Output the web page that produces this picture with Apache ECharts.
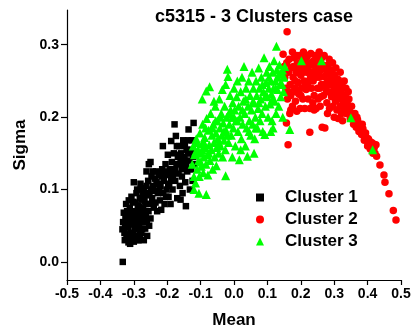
<!DOCTYPE html>
<html>
<head>
<meta charset="utf-8">
<title>c5315 - 3 Clusters case</title>
<script src="https://cdn.jsdelivr.net/npm/echarts@6/dist/echarts.min.js"></script>
<style>
  html, body { margin: 0; padding: 0; background: #fff; }
  #chart { width: 412px; height: 329px; }
</style>
</head>
<body>
<div id="chart"></div>
<script>
// 数据: [mean, sigma]
const cluster1 = [
  [-0.333,0.0],
  [-0.332,0.055],[-0.328,0.040],[-0.325,0.062],[-0.322,0.035],[-0.320,0.070],[-0.318,0.048],[-0.316,0.027],[-0.314,0.058],
  [-0.312,0.075],[-0.310,0.040],[-0.308,0.032],[-0.306,0.064],[-0.304,0.052],[-0.302,0.083],[-0.300,0.028],[-0.298,0.045],
  [-0.296,0.070],[-0.294,0.036],[-0.292,0.095],[-0.290,0.058],[-0.288,0.078],[-0.286,0.030],[-0.284,0.048],[-0.282,0.088],
  [-0.280,0.065],[-0.278,0.040],[-0.276,0.100],[-0.274,0.055],[-0.272,0.074],[-0.270,0.030],[-0.268,0.084],[-0.266,0.046],
  [-0.264,0.062],[-0.262,0.105],[-0.260,0.036],[-0.258,0.092],[-0.256,0.070],[-0.254,0.050],[-0.252,0.080],[-0.250,0.060],
  [-0.326,0.050],[-0.318,0.066],[-0.310,0.052],[-0.303,0.040],[-0.297,0.060],[-0.291,0.046],[-0.285,0.068],[-0.279,0.055],
  [-0.273,0.092],[-0.267,0.070],[-0.315,0.085],[-0.300,0.110],[-0.290,0.100],[-0.280,0.108],[-0.270,0.095],
  [-0.334,0.045],[-0.330,0.068],[-0.327,0.030],[-0.323,0.080],[-0.321,0.052],[-0.317,0.038],[-0.313,0.068],[-0.311,0.025],
  [-0.307,0.090],[-0.305,0.058],[-0.301,0.070],[-0.299,0.036],[-0.295,0.082],[-0.293,0.050],[-0.289,0.030],[-0.287,0.062],
  [-0.283,0.076],[-0.281,0.038],[-0.277,0.086],[-0.275,0.045],[-0.271,0.060],[-0.269,0.102],[-0.265,0.080],[-0.261,0.055],
  [-0.262,0.125],[-0.255,0.135],[-0.250,0.138],[-0.248,0.100],[-0.245,0.088],[-0.242,0.105],[-0.240,0.075],[-0.238,0.098],
  [-0.235,0.082],[-0.232,0.110],[-0.230,0.070],[-0.228,0.095],[-0.225,0.120],[-0.222,0.085],[-0.220,0.105],[-0.218,0.072],
  [-0.215,0.128],[-0.212,0.095],[-0.210,0.112],[-0.208,0.080],[-0.205,0.135],[-0.202,0.100],[-0.200,0.120],[-0.198,0.148],
  [-0.196,0.090],[-0.194,0.108],[-0.192,0.128],[-0.190,0.080],[-0.188,0.115],[-0.186,0.138],[-0.184,0.100],
  [-0.257,0.112],[-0.253,0.095],[-0.247,0.118],[-0.243,0.125],[-0.237,0.115],[-0.233,0.125],[-0.227,0.108],[-0.223,0.100],
  [-0.217,0.118],[-0.207,0.125],[-0.203,0.090],[-0.197,0.105],
  [-0.182,0.125],[-0.180,0.150],[-0.178,0.190],[-0.176,0.112],[-0.174,0.174],[-0.172,0.135],[-0.170,0.088],[-0.168,0.145],
  [-0.166,0.122],[-0.164,0.160],[-0.162,0.105],[-0.160,0.138],[-0.158,0.150],[-0.156,0.118],[-0.154,0.095],[-0.152,0.168],
  [-0.150,0.130],[-0.148,0.145],[-0.146,0.110],[-0.144,0.077],[-0.142,0.155],[-0.140,0.125],[-0.138,0.168],[-0.136,0.183],
  [-0.134,0.140],[-0.132,0.100],[-0.130,0.150],[-0.128,0.128],[-0.126,0.168],[-0.124,0.112],[-0.122,0.145],[-0.121,0.192],
  [-0.120,0.135],[-0.188,0.167],[-0.213,0.160],[-0.160,0.086],
  [-0.183,0.118],[-0.177,0.128],[-0.171,0.160],[-0.167,0.135],[-0.163,0.148],[-0.157,0.128],[-0.153,0.140],[-0.147,0.160],
  [-0.143,0.135],[-0.137,0.150],[-0.133,0.128],[-0.127,0.155]
]
const cluster2 = [
  [0.147,0.287],[0.150,0.270],[0.152,0.255],[0.155,0.240],[0.157,0.192],[0.159,0.318],[0.160,0.225],[0.162,0.162],
  [0.163,0.262],[0.165,0.280],[0.167,0.205],[0.168,0.245],[0.170,0.230],[0.172,0.268],[0.175,0.215],[0.177,0.255],
  [0.180,0.282],[0.182,0.240],[0.184,0.222],[0.186,0.262],[0.188,0.208],[0.190,0.275],[0.192,0.248],[0.194,0.232],
  [0.196,0.285],[0.198,0.212],[0.200,0.258],[0.202,0.240],[0.204,0.270],[0.206,0.225],[0.208,0.290],[0.210,0.250],
  [0.212,0.212],[0.214,0.275],[0.216,0.238],[0.218,0.262],[0.220,0.285],[0.222,0.225],[0.224,0.250],[0.226,0.272],
  [0.227,0.179],[0.228,0.212],[0.230,0.288],[0.232,0.240],[0.234,0.262],[0.236,0.220],[0.238,0.278],[0.240,0.230],
  [0.242,0.255],[0.244,0.285],[0.246,0.212],[0.248,0.268],[0.250,0.240],[0.252,0.225],[0.254,0.278],[0.256,0.255],
  [0.258,0.215],[0.260,0.265],[0.262,0.245],[0.264,0.186],[0.266,0.272],[0.268,0.230],[0.270,0.256],[0.272,0.185],
  [0.274,0.242],[0.276,0.265],[0.278,0.220],[0.280,0.250],[0.282,0.272],[0.284,0.235],[0.286,0.212],[0.288,0.258],
  [0.290,0.245],[0.292,0.228],[0.294,0.265],[0.296,0.215],[0.298,0.250],[0.300,0.238],[0.302,0.258],[0.304,0.222],
  [0.306,0.245],[0.308,0.210],[0.310,0.235],[0.312,0.252],[0.314,0.225],[0.316,0.240],[0.318,0.215],[0.320,0.232],
  [0.322,0.205],[0.325,0.225],[0.328,0.240],[0.330,0.212],[0.333,0.230],[0.336,0.205],[0.339,0.222],[0.342,0.235],
  [0.345,0.210],[0.348,0.198],
  [0.175,0.290],[0.190,0.262],[0.215,0.265],[0.255,0.290],[0.270,0.285],[0.285,0.280],[0.295,0.275],[0.305,0.268],
  [0.318,0.262],[0.330,0.250],[0.200,0.230],[0.220,0.245],[0.240,0.210],[0.260,0.228],[0.280,0.205],[0.300,0.200],
  [0.165,0.235],[0.158,0.275],[0.312,0.198],[0.325,0.195],
  [0.178,0.270],[0.183,0.250],[0.188,0.285],[0.193,0.270],[0.203,0.282],[0.207,0.262],[0.213,0.245],[0.217,0.282],
  [0.223,0.270],[0.229,0.255],[0.233,0.275],[0.237,0.250],[0.243,0.270],[0.247,0.255],[0.253,0.262],[0.257,0.240],
  [0.263,0.282],[0.267,0.245],[0.273,0.270],[0.277,0.235],[0.283,0.262],[0.287,0.245],[0.293,0.255],[0.297,0.232],
  [0.303,0.245],[0.307,0.230],[0.313,0.238],[0.317,0.228],[0.323,0.245],[0.327,0.218],[0.335,0.240],[0.340,0.215],
  [0.344,0.225],[0.170,0.210],[0.185,0.235],
  // 尾部
  [0.350,0.205],[0.360,0.198],[0.368,0.200],[0.376,0.185],[0.384,0.190],[0.392,0.175],[0.402,0.170],[0.410,0.160],
  [0.418,0.163],[0.422,0.150],
  [0.352,0.215],[0.355,0.200],[0.358,0.190],[0.362,0.205],[0.366,0.186],[0.370,0.196],[0.374,0.180],[0.378,0.190],
  [0.382,0.176],[0.386,0.184],[0.390,0.168],[0.394,0.178],[0.397,0.171],[0.400,0.160],[0.404,0.168],[0.408,0.156],
  [0.412,0.165],[0.416,0.150],[0.420,0.158],[0.425,0.162],[0.427,0.146],[0.437,0.134],[0.449,0.120],[0.452,0.110],
  [0.464,0.094],[0.477,0.071],[0.485,0.058]
]
const cluster3 = [
  [-0.125,0.135],[-0.122,0.160],[-0.120,0.118],[-0.118,0.148],[-0.115,0.109],[-0.113,0.170],[-0.110,0.128],[-0.108,0.155],
  [-0.106,0.140],[-0.104,0.118],[-0.102,0.178],[-0.100,0.150],[-0.098,0.132],[-0.096,0.163],[-0.094,0.190],[-0.092,0.123],
  [-0.090,0.145],[-0.088,0.172],[-0.086,0.158],[-0.084,0.135],[-0.083,0.093],[-0.082,0.198],[-0.080,0.148],[-0.078,0.120],
  [-0.076,0.182],[-0.074,0.162],[-0.072,0.140],[-0.070,0.205],[-0.068,0.155],[-0.066,0.175],[-0.064,0.128],[-0.062,0.190],
  [-0.060,0.165],[-0.058,0.145],[-0.056,0.215],[-0.054,0.178],[-0.053,0.133],[-0.052,0.158],[-0.050,0.195],[-0.048,0.170],
  [-0.046,0.150],[-0.044,0.225],[-0.042,0.185],[-0.040,0.160],[-0.038,0.205],[-0.036,0.175],[-0.034,0.145],[-0.032,0.192],
  [-0.030,0.168],[-0.028,0.215],[-0.026,0.155],[-0.025,0.119],[-0.024,0.182],[-0.022,0.200],[-0.020,0.266],[-0.018,0.256],
  [-0.016,0.165],[-0.014,0.190],[-0.012,0.230],[-0.010,0.210],[-0.073,0.242],[-0.083,0.236],[-0.095,0.225],[-0.060,0.222],
  [-0.035,0.238],[-0.025,0.245],[-0.105,0.095],
  [-0.115,0.152],[-0.110,0.165],[-0.100,0.138],[-0.095,0.155],[-0.090,0.165],[-0.085,0.185],[-0.075,0.150],[-0.065,0.185],
  [-0.055,0.195],[-0.045,0.165],[-0.040,0.200],[-0.030,0.180],[-0.020,0.175],[-0.015,0.205],[-0.120,0.100],
  [-0.008,0.175],[-0.006,0.200],[-0.004,0.220],[-0.002,0.185],[0.000,0.240],[0.002,0.210],[0.004,0.160],[0.006,0.195],
  [0.008,0.228],[0.010,0.250],[0.012,0.180],[0.014,0.215],[0.016,0.141],[0.018,0.200],[0.020,0.235],[0.022,0.170],
  [0.024,0.255],[0.026,0.190],[0.028,0.222],[0.030,0.270],[0.032,0.205],[0.034,0.160],[0.036,0.240],[0.038,0.185],
  [0.040,0.146],[0.042,0.215],[0.044,0.250],[0.046,0.195],[0.048,0.230],[0.050,0.175],[0.052,0.210],[0.054,0.262],
  [0.056,0.190],[0.058,0.240],[0.060,0.220],[0.062,0.170],[0.064,0.200],[0.066,0.250],[0.068,0.230],[0.070,0.185],
  [0.072,0.212],[0.074,0.268],[0.076,0.240],[0.078,0.195],[0.080,0.225],[0.082,0.255],[0.084,0.205],[0.086,0.180],
  [0.088,0.235],[0.090,0.282],[0.092,0.176],[0.094,0.215],[0.096,0.248],[0.098,0.262],[0.100,0.228],[0.102,0.200],
  [0.104,0.240],[0.106,0.270],[0.108,0.218],[0.110,0.250],[0.112,0.232],[0.114,0.195],[0.116,0.262],[0.117,0.185],
  [0.118,0.240],[0.120,0.278],[0.122,0.222],[0.124,0.250],[0.126,0.205],[0.127,0.298],[0.128,0.265],[0.130,0.238],
  [0.132,0.255],[0.134,0.215],[0.136,0.272],[0.138,0.245],[0.140,0.228],[0.142,0.260],[0.144,0.245],[0.146,0.200],
  [0.148,0.235],[0.150,0.255],[0.152,0.270],[0.167,0.183],[0.202,0.278],[0.262,0.278],[0.350,0.199],[0.415,0.155],
  [0.110,0.180],[0.060,0.150],[0.020,0.155],[-0.005,0.145],
  [0.000,0.200],[0.010,0.195],[0.025,0.210],[0.035,0.225],[0.045,0.180],[0.055,0.220],[0.065,0.185],[0.075,0.220],
  [0.085,0.245],[0.095,0.230],[0.105,0.255],[0.115,0.225],[0.125,0.240],[0.135,0.260],[0.145,0.265]
]
const seriesNames = ['Cluster 1', 'Cluster 2', 'Cluster 3']
const xTicks = [-0.5, -0.4, -0.3, -0.2, -0.1, 0.0, 0.1, 0.2, 0.3, 0.4, 0.5]
const yTicks = [0.0, 0.1, 0.2, 0.3]

const FONT = 'Liberation Sans, Arial, sans-serif'
const chart = echarts.init(document.getElementById('chart'))

const option = {
  animation: false,
  backgroundColor: '#fff',
  title: {
    text: 'c5315 - 3 Clusters case',
    left: 254,
    top: 8,
    padding: 0,
    textAlign: 'center',
    textStyle: { fontFamily: FONT, fontWeight: 'bold', fontSize: 18, color: '#000' }
  },
  legend: {
    orient: 'vertical',
    left: 256,
    top: 189,
    padding: 0,
    itemWidth: 8,
    itemHeight: 8,
    itemGap: 5,
    data: seriesNames,
    textStyle: { fontFamily: FONT, fontWeight: 'bold', fontSize: 17, color: '#000', padding: [0, 0, 0, 16] }
  },
  // 固定绘图区, 不让坐标轴名字把网格挤小
  grid: { left: 67, right: 11, top: 10, bottom: 49, outerBoundsMode: 'none' },
  xAxis: {
    type: 'value',
    min: xTicks[0],
    max: xTicks[xTicks.length - 1],
    interval: 0.1,
    name: 'Mean',
    nameLocation: 'middle',
    nameGap: 32,
    nameTextStyle: { fontFamily: FONT, fontWeight: 'bold', fontSize: 17, color: '#000' },
    axisLine: { onZero: false, lineStyle: { color: '#000', width: 1.2 } },
    axisTick: { show: true, length: 5, lineStyle: { color: '#000', width: 1.2 } },
    axisLabel: {
      margin: 7,
      fontFamily: FONT, fontWeight: 'bold', fontSize: 14, color: '#000',
      formatter: v => v.toFixed(1)
    },
    splitLine: { show: false }
  },
  yAxis: {
    type: 'value',
    min: -0.025,
    max: 0.348,
    name: 'Sigma',
    nameLocation: 'middle',
    nameGap: 36,
    nameTextStyle: { fontFamily: FONT, fontWeight: 'bold', fontSize: 17, color: '#000' },
    axisLine: { show: true, onZero: false, lineStyle: { color: '#000', width: 1.2 } },
    axisTick: { show: true, length: 6, customValues: yTicks, lineStyle: { color: '#000', width: 1.2 } },
    axisLabel: {
      margin: 8,
      customValues: yTicks,
      fontFamily: FONT, fontWeight: 'bold', fontSize: 14, color: '#000',
      formatter: v => v.toFixed(1)
    },
    splitLine: { show: false }
  },
  series: [
    {
      name: seriesNames[0],
      type: 'scatter',
      symbol: 'rect',
      symbolSize: 6.5,
      itemStyle: { color: '#000000', opacity: 1 },
      data: cluster1
    },
    {
      name: seriesNames[1],
      type: 'scatter',
      symbol: 'circle',
      symbolSize: 7.5,
      itemStyle: { color: '#ff0000', opacity: 1 },
      data: cluster2
    },
    {
      name: seriesNames[2],
      type: 'scatter',
      symbol: 'triangle',
      symbolSize: 9,
      itemStyle: { color: '#00ff00', opacity: 1 },
      data: cluster3
    }
  ]
}
chart.setOption(option)
</script>
</body>
</html>
